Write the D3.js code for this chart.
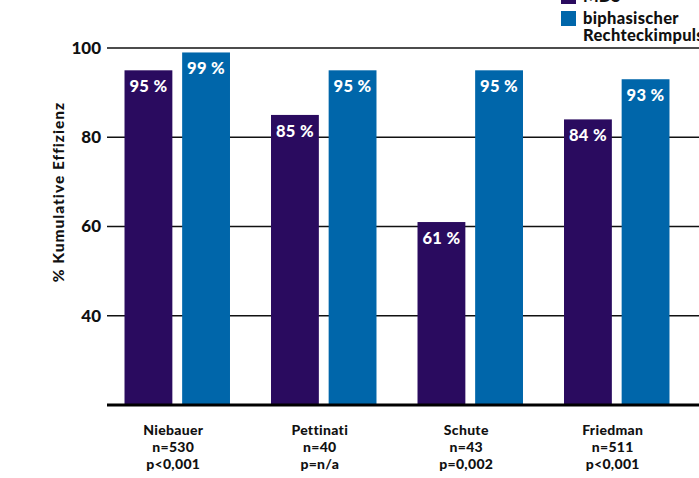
<!DOCTYPE html>
<html lang="de">
<head>
<meta charset="UTF-8">
<title>Kumulative Effizienz</title>
<script src="https://d3js.org/d3.v7.min.js"></script>
<style>
  body { margin: 0; background: #fff; }
  svg { display: block; font-family: Lato, "Open Sans", sans-serif; }
</style>
</head>
<body>
<svg width="699" height="478" id="mainsvg"></svg>
<script>
// Studien und Werte (% kumulative Effizienz)
const studies = ['Niebauer', 'Pettinati', 'Schute', 'Friedman'];
const nLabels = ['n=530', 'n=40', 'n=43', 'n=511'];
const pLabels = ['p<0,001', 'p=n/a', 'p=0,002', 'p<0,001'];
const seriesNames = ['MDS', 'biphasischer Rechteckimpuls'];
const mdsValues = [95, 85, 61, 84];
const biphasicValues = [99, 95, 95, 93];
const yTicks = [40, 60, 80, 100];

const colors = ['#2a0b5f', '#0066aa'];

const svg = d3.select('#mainsvg');
const width = +svg.attr('width');

const xScale = d3.scaleBand().domain(studies).range([104, 690])
  .paddingInner(0.28).paddingOuter(0.14);
const xInner = d3.scaleBand().domain(seriesNames).range([0, xScale.bandwidth()])
  .paddingInner(0.17);
const yScale = d3.scaleLinear().domain([20, 100]).range([405, 48]);

const data = studies.map((s, i) => ({
  study: s,
  values: [mdsValues[i], biphasicValues[i]]
}));

// Gitterlinien
svg.append('g').selectAll('line').data(yTicks).join('line')
  .attr('x1', 107).attr('x2', width)
  .attr('y1', d => yScale(d)).attr('y2', d => yScale(d))
  .attr('stroke', '#111').attr('stroke-width', 1.6);

// y-Achse Beschriftung
const yAxis = d3.axisLeft(yScale).tickValues(yTicks).tickSize(0).tickPadding(0);
const yg = svg.append('g').attr('transform', 'translate(101,0)').call(yAxis);
yg.select('.domain').remove();
yg.selectAll('.tick text')
  .attr('font-family', 'Lato, sans-serif')
  .attr('font-size', 17).attr('font-weight', 900).attr('fill', '#111');

// Balken
const groups = svg.append('g').selectAll('g').data(data).join('g')
  .attr('transform', d => `translate(${xScale(d.study)},0)`);

groups.selectAll('rect')
  .data(d => d.values.map((v, j) => ({ v, s: seriesNames[j], j })))
  .join('rect')
  .attr('x', d => xInner(d.s))
  .attr('width', xInner.bandwidth())
  .attr('y', d => yScale(d.v))
  .attr('height', d => yScale(20) - yScale(d.v))
  .attr('fill', d => colors[d.j]);

groups.selectAll('text.val')
  .data(d => d.values.map((v, j) => ({ v, s: seriesNames[j] })))
  .join('text')
  .attr('class', 'val')
  .attr('x', d => xInner(d.s) + xInner.bandwidth() / 2)
  .attr('y', d => yScale(d.v) + 22)
  .attr('text-anchor', 'middle')
  .attr('font-size', 16.5).attr('font-weight', 900).attr('fill', '#fff')
  .attr('letter-spacing', 0.3)
  .text(d => d.v + ' %');

// Grundlinie
svg.append('line')
  .attr('x1', 107).attr('x2', width)
  .attr('y1', yScale(20)).attr('y2', yScale(20))
  .attr('stroke', '#000').attr('stroke-width', 3);

// Kategorien
const catX = d => xScale(d) + xScale.bandwidth() / 2 - 4;
const cat = svg.append('g').selectAll('text').data(studies).join('text')
  .attr('text-anchor', 'middle')
  .attr('font-size', 14).attr('font-weight', 900).attr('fill', '#111')
  .attr('letter-spacing', 0.3);
cat.append('tspan').attr('x', catX).attr('y', 435).text(d => d);
cat.append('tspan').attr('x', catX).attr('y', 452).text((d, i) => nLabels[i]);
cat.append('tspan').attr('x', catX).attr('y', 469).text((d, i) => pLabels[i]);

// y-Titel
svg.append('text')
  .attr('transform', 'translate(64,192) rotate(-90)')
  .attr('text-anchor', 'middle')
  .attr('font-size', 15.5).attr('font-weight', 900).attr('fill', '#111')
  .attr('letter-spacing', 1)
  .text('% Kumulative Effizienz');

// Legende
const legend = svg.append('g').attr('transform', 'translate(561,0)');
legend.append('rect').attr('x', 0).attr('y', -11).attr('width', 15).attr('height', 15)
  .attr('fill', colors[0]);
legend.append('text').attr('x', 22).attr('y', 2)
  .attr('font-size', 16.5).attr('font-weight', 900).attr('fill', '#111')
  .text(seriesNames[0]);
legend.append('rect').attr('x', 0).attr('y', 11).attr('width', 15).attr('height', 15)
  .attr('fill', colors[1]);
const lt = legend.append('text').attr('font-size', 16.5).attr('font-weight', 900)
  .attr('fill', '#111').attr('letter-spacing', 0.3);
lt.append('tspan').attr('x', 22).attr('y', 24).text('biphasischer');
lt.append('tspan').attr('x', 22).attr('y', 41).text('Rechteckimpuls');
</script>
</body>
</html>
